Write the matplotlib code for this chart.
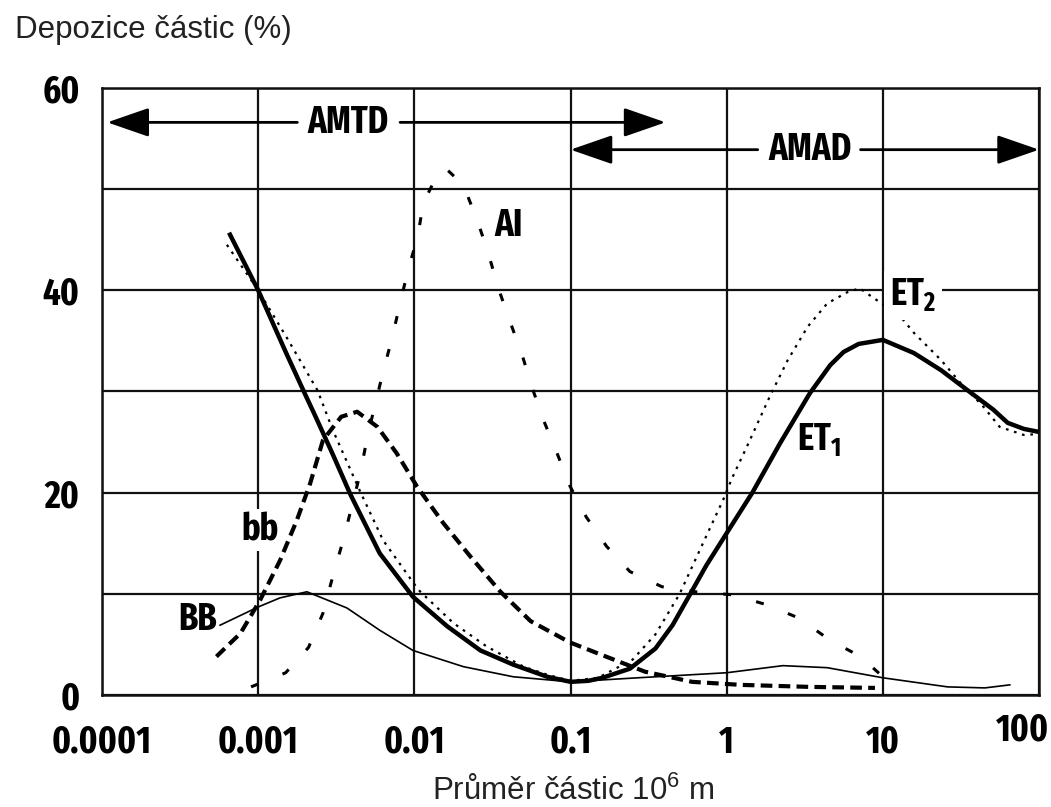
import os
import matplotlib
matplotlib.use("Agg")
import matplotlib.pyplot as plt
from matplotlib import font_manager
from matplotlib.font_manager import FontProperties
from matplotlib.ticker import NullLocator
from matplotlib.transforms import ScaledTranslation

# particle diameter (log axis) and deposition (%)
et1_x = [0.00066, 0.001, 0.0015, 0.002, 0.0023, 0.003, 0.0039, 0.006, 0.0098, 0.0162, 0.0265, 0.043,
         0.071, 0.1, 0.13, 0.16, 0.24, 0.35, 0.45, 0.58, 0.74, 1.0, 1.46, 2.2, 3.4, 4.6, 5.6, 7.0, 10,
         15.8, 23.6, 35, 51, 63, 80, 100]
et1_y = [45.5, 40, 33.9, 29.7, 27.7, 23.8, 19.8, 14.0, 9.7, 6.8, 4.4, 3.0,
         1.8, 1.3, 1.4, 1.7, 2.6, 4.6, 6.9, 9.9, 12.8, 16.0, 20.0, 24.9, 29.8, 32.6, 33.9, 34.7, 35.1,
         33.8, 32.1, 30.1, 28.2, 26.9, 26.3, 26.0]

et2_x = [0.00063, 0.001, 0.0015, 0.0024, 0.003, 0.0045, 0.0063, 0.0106, 0.0178, 0.029, 0.05, 0.071,
         0.1, 0.15, 0.25, 0.35, 0.5, 0.614, 0.755, 0.95, 1.08, 1.38, 1.9, 2.46, 3.3, 4.4, 5.9, 7.1,
         9.6, 12.5, 15.8, 23.6, 31.6, 44, 56, 80, 100]
et2_y = [44.5, 40, 35.5, 30.1, 26.2, 20.1, 15.3, 10.4, 7.1, 4.8, 2.8, 2.0,
         1.4, 1.7, 3.5, 6.0, 10.0, 13.0, 16.0, 19.3, 21.4, 24.9, 29.6, 33.1, 36.4, 38.7, 39.8, 40.2,
         38.8, 37.7, 35.8, 33.1, 30.8, 28.5, 26.5, 25.7, 25.8]

ai_x = [0.0009, 0.0015, 0.0021, 0.0026, 0.003, 0.0035, 0.0045, 0.005, 0.0056, 0.0063, 0.0072, 0.0081,
        0.0091, 0.0105, 0.0114, 0.0143, 0.016, 0.0206, 0.0253, 0.0297, 0.0345, 0.041, 0.049, 0.057,
        0.067, 0.082, 0.098, 0.126, 0.17, 0.24, 0.385, 0.63, 1.1, 1.82, 2.9, 4.6, 7.2, 10]
ai_y = [0.8, 2.2, 4.7, 8.1, 11.7, 15.3, 21.9, 25.5, 28.7, 31.9, 35.3, 38.7,
        42.0, 45.3, 48.6, 51.7, 52.0, 50.4, 46.9, 43.7, 40.2, 36.9, 33.6, 30.3,
        27.2, 23.9, 20.8, 17.6, 14.7, 12.2, 10.7, 10.2, 9.9, 8.9, 7.6, 5.4, 3.8, 1.8]

bb_x = [0.00054, 0.00077, 0.00103, 0.00138, 0.00177, 0.00215, 0.0026, 0.0034, 0.0043, 0.0058, 0.0077,
        0.0104, 0.0153, 0.0228, 0.0356, 0.0555, 0.099, 0.156, 0.30, 0.6, 1.23, 3.4, 8.9]
bb_y = [3.8, 6.1, 9.4, 13.3, 17.3, 20.9, 25.2, 27.5, 28.0, 26.5, 23.9,
        20.6, 17.0, 13.7, 10.2, 7.3, 5.2, 4.0, 2.3, 1.3, 1.0, 0.8, 0.7]

BB_x = [0.00057, 0.001, 0.00138, 0.00205, 0.0037, 0.006, 0.0098, 0.0206, 0.043, 0.1, 0.27, 1.0,
        2.29, 4.4, 10, 26, 45, 65]
BB_y = [6.9, 8.7, 9.6, 10.2, 8.6, 6.4, 4.4, 2.8, 1.8, 1.3, 1.7, 2.2,
        2.9, 2.7, 1.7, 0.8, 0.7, 1.0]

x_ticks = [0.0001, 0.001, 0.01, 0.1, 1, 10, 100]
x_tick_labels = ["0.0001", "0.001", "0.01", "0.1", "1", "10", "100"]
y_ticks = [0, 10, 20, 30, 40, 50, 60]
y_tick_labels = ["0", "", "20", "", "40", "", "60"]

# size ranges: (left head, text gap start, text x, text gap end, right head, y)
amtd = [0.000108, 0.00178, 0.00378, 0.0081, 0.406, 56.6]
amad = [0.1, 1.58, 3.4, 7.2, 100, 53.9]


def condensed_bold():
    # look for a narrow bold face among the installed fonts
    best, best_rank = None, 99
    for f in font_manager.fontManager.ttflist:
        nm = (f.name + " " + os.path.basename(f.fname)).lower().replace("-", "").replace(" ", "")
        if "italic" in nm or "oblique" in nm or f.style != "normal":
            continue
        w = f.weight if isinstance(f.weight, int) else {"bold": 700}.get(f.weight, 400)
        if w < 600 and "bold" not in nm:
            continue
        if "black" in nm or "extrabold" in nm or "semibold" in nm or "ultrabold" in nm:
            continue
        if "liberation" in nm and "narrow" in nm:
            rank = 0
        elif "extracondensed" in nm or f.stretch == "extra-condensed":
            rank = 1
        elif "condensed" in nm and "semi" not in nm:
            rank = 2
        elif f.stretch == "condensed":
            rank = 3
        elif "narrow" in nm or "condensed" in nm:
            rank = 4
        else:
            continue
        if rank < best_rank:
            best, best_rank = f.fname, rank
    return best, best_rank


cfile, crank = condensed_bold()
if cfile:
    cond = lambda s: FontProperties(fname=cfile, size=s)
    big = 27 if crank <= 1 else 24
else:
    cond = lambda s: FontProperties(family="DejaVu Sans", weight="bold", size=s)
    big = 19

plain = ["Liberation Sans", "DejaVu Sans"]

fig = plt.figure(figsize=(10.51, 8.07), dpi=100)
ax = fig.add_axes([0.0971, 0.1388, 0.8915, 0.7522])

ax.set_xscale("log")
ax.set_xlim(0.0001, 100)
ax.set_ylim(0, 60)
ax.xaxis.set_minor_locator(NullLocator())
ax.set_xticks(x_ticks)
ax.set_xticklabels(x_tick_labels)
ax.set_yticks(y_ticks)
ax.set_yticklabels(y_tick_labels)
ax.tick_params(length=0)
ax.tick_params(axis="x", pad=21)
ax.tick_params(axis="y", pad=16)
for lab in ax.get_xticklabels() + ax.get_yticklabels():
    lab.set_fontproperties(cond(big))
last = ax.get_xticklabels()[-1]
last.set_horizontalalignment("right")
last.set_transform(last.get_transform() + ScaledTranslation(0.10, 0.12, fig.dpi_scale_trans))

ax.grid(True, color="#111111", lw=1.6)
for s in ax.spines.values():
    s.set_linewidth(1.8)
    s.set_color("#111111")

ax.plot(BB_x, BB_y, color="k", lw=1.2, zorder=3)
ax.plot(bb_x, bb_y, color="k", lw=3, dashes=(2.8, 1.5), zorder=3)
ax.plot(ai_x, ai_y, color="k", lw=2.2, dashes=(2.6, 8.5), zorder=3)
ax.plot(et2_x, et2_y, color="k", lw=1.6, dashes=(1.2, 2.6), zorder=3)
ax.plot(et1_x, et1_y, color="k", lw=3.2, zorder=4)

arrow = dict(arrowstyle="-|>,head_length=1.3,head_width=0.45", mutation_scale=20,
             color="k", lw=2, shrinkA=0, shrinkB=0)
for left, g1, tx, g2, right, yy, name in [amtd + ["AMTD"], amad + ["AMAD"]]:
    ax.annotate("", xy=(left, yy), xytext=(g1, yy), arrowprops=arrow, zorder=5)
    ax.annotate("", xy=(right, yy), xytext=(g2, yy), arrowprops=arrow, zorder=5)
    ax.text(tx, yy, name, fontproperties=cond(big), ha="center", va="center", zorder=5)

lbl = dict(ha="center", va="center", zorder=6)
ax.text(0.040, 46.4, "AI", fontproperties=cond(big), **lbl)
ax.text(0.00103, 16.3, "bb", fontproperties=cond(big), bbox=dict(fc="white", ec="none", pad=2), **lbl)
ax.text(0.00041, 7.4, "BB", fontproperties=cond(big), **lbl)
ax.text(3.89, 25.2, r"ET$_\mathregular{1}$", fontproperties=cond(big), **lbl)
ax.text(15.6, 39.5, r"ET$_\mathregular{2}$", fontproperties=cond(big),
        bbox=dict(fc="white", ec="none", pad=4), **lbl)

fig.text(15 / 1051, 1 - 38 / 807, "Depozice částic (%)", family=plain, fontsize=22.5,
         ha="left", va="baseline", color="#222222")
fig.text(573 / 1051, 1 - 800 / 807, r"Průměr částic 10$^\mathregular{6}$ m", family=plain,
         fontsize=22.5, ha="center", va="baseline", color="#222222")

fig.savefig("out.png", dpi=100)
